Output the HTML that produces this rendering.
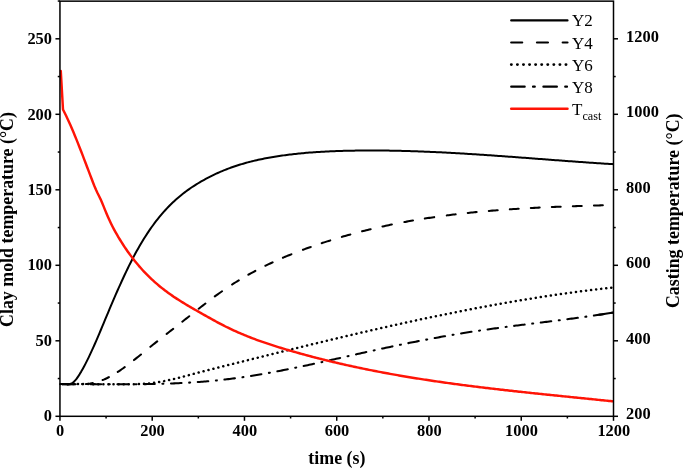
<!DOCTYPE html>
<html><head><meta charset="utf-8"><title>Clay mold and casting temperature</title>
<style>
html,body{margin:0;padding:0;background:#fff;}
svg{display:block;}
text{font-family:"Liberation Serif",serif;fill:#000;}
.tk{font-size:16.4px;font-weight:bold;}
.lg{font-size:17px;}
.ax{font-size:17.9px;font-weight:bold;}
.c{fill:none;stroke:#000;stroke-width:2.2;stroke-linejoin:round;stroke-linecap:round;}
.dot{stroke-width:2.5;}
.ldot{stroke-width:2.9;}
.d{stroke-width:2.05;}
.r{stroke:#ff1406;stroke-width:2.45;}
</style></head>
<body>
<svg width="685" height="468" viewBox="0 0 685 468">
<rect x="0" y="0" width="685" height="468" fill="#fff"/>
<defs><clipPath id="pc"><rect x="59.35" y="1.15" width="554.55" height="415.15000000000003"/></clipPath></defs>
<g id="curves" clip-path="url(#pc)">
<path d="M60.20,384.12 L61.70,384.05 L63.20,384.12 L64.70,384.25 L66.20,384.37 L67.70,384.39 L69.20,384.23 L70.70,383.83 L72.20,383.08 L73.70,381.94 L75.20,380.41 L76.70,378.55 L78.20,376.43 L79.70,374.10 L81.20,371.61 L82.70,368.99 L84.20,366.25 L85.70,363.39 L87.20,360.42 L88.70,357.35 L90.20,354.19 L91.70,350.95 L93.20,347.63 L94.70,344.25 L96.20,340.82 L97.70,337.33 L99.20,333.80 L100.70,330.25 L102.20,326.67 L103.70,323.07 L105.20,319.47 L106.70,315.87 L108.20,312.28 L109.70,308.71 L111.20,305.17 L112.70,301.65 L114.20,298.16 L115.70,294.70 L117.20,291.27 L118.70,287.89 L120.20,284.54 L121.70,281.23 L123.20,277.97 L124.70,274.76 L126.20,271.59 L127.70,268.48 L129.20,265.43 L130.70,262.43 L132.20,259.50 L133.70,256.63 L135.20,253.82 L136.70,251.08 L138.20,248.40 L139.70,245.78 L141.20,243.23 L142.70,240.74 L144.20,238.30 L145.70,235.93 L147.20,233.62 L148.70,231.37 L150.20,229.18 L151.70,227.04 L153.20,224.97 L154.70,222.94 L156.20,220.98 L157.70,219.06 L159.20,217.20 L160.70,215.39 L162.20,213.62 L163.70,211.91 L165.20,210.25 L166.70,208.63 L168.20,207.05 L169.70,205.52 L171.20,204.03 L172.70,202.59 L174.20,201.18 L175.70,199.81 L177.20,198.49 L178.70,197.19 L180.20,195.94 L181.70,194.72 L183.20,193.53 L184.70,192.37 L186.20,191.25 L187.70,190.15 L189.20,189.09 L190.70,188.05 L192.20,187.04 L193.70,186.05 L195.20,185.09 L196.70,184.15 L198.20,183.23 L199.70,182.34 L201.20,181.46 L202.70,180.60 L204.20,179.76 L205.70,178.94 L207.20,178.14 L208.70,177.35 L210.20,176.59 L211.70,175.84 L213.20,175.10 L214.70,174.39 L216.20,173.69 L217.70,173.01 L219.20,172.34 L220.70,171.69 L222.20,171.06 L223.70,170.44 L225.20,169.83 L226.70,169.24 L228.20,168.67 L229.70,168.11 L231.20,167.56 L232.70,167.03 L234.20,166.51 L235.70,166.00 L237.20,165.51 L238.70,165.03 L240.20,164.57 L241.70,164.11 L243.20,163.67 L244.70,163.24 L246.20,162.82 L247.70,162.41 L249.20,162.02 L250.70,161.63 L252.20,161.26 L253.70,160.89 L255.20,160.54 L256.70,160.19 L258.20,159.85 L259.70,159.53 L261.20,159.21 L262.70,158.90 L264.20,158.60 L265.70,158.31 L267.20,158.03 L268.70,157.75 L270.20,157.48 L271.70,157.22 L273.20,156.97 L274.70,156.72 L276.20,156.48 L277.70,156.24 L279.20,156.02 L280.70,155.79 L282.20,155.58 L283.70,155.37 L285.20,155.16 L286.70,154.96 L288.20,154.77 L289.70,154.58 L291.20,154.40 L292.70,154.23 L294.20,154.06 L295.70,153.89 L297.20,153.73 L298.70,153.57 L300.20,153.42 L301.70,153.28 L303.20,153.14 L304.70,153.00 L306.20,152.87 L307.70,152.75 L309.20,152.62 L310.70,152.51 L312.20,152.39 L313.70,152.29 L315.20,152.18 L316.70,152.08 L318.20,151.98 L319.70,151.89 L321.20,151.80 L322.70,151.72 L324.20,151.64 L325.70,151.56 L327.20,151.48 L328.70,151.41 L330.20,151.35 L331.70,151.28 L333.20,151.22 L334.70,151.16 L336.20,151.11 L337.70,151.05 L339.20,151.00 L340.70,150.96 L342.20,150.91 L343.70,150.87 L345.20,150.83 L346.70,150.79 L348.20,150.76 L349.70,150.72 L351.20,150.69 L352.70,150.67 L354.20,150.64 L355.70,150.62 L357.20,150.60 L358.70,150.58 L360.20,150.56 L361.70,150.54 L363.20,150.53 L364.70,150.52 L366.20,150.51 L367.70,150.51 L369.20,150.50 L370.70,150.50 L372.20,150.50 L373.70,150.50 L375.20,150.50 L376.70,150.51 L378.20,150.52 L379.70,150.53 L381.20,150.54 L382.70,150.55 L384.20,150.57 L385.70,150.58 L387.20,150.60 L388.70,150.62 L390.20,150.65 L391.70,150.67 L393.20,150.70 L394.70,150.72 L396.20,150.75 L397.70,150.79 L399.20,150.82 L400.70,150.85 L402.20,150.89 L403.70,150.93 L405.20,150.97 L406.70,151.01 L408.20,151.05 L409.70,151.10 L411.20,151.14 L412.70,151.19 L414.20,151.24 L415.70,151.29 L417.20,151.34 L418.70,151.40 L420.20,151.45 L421.70,151.51 L423.20,151.57 L424.70,151.63 L426.20,151.69 L427.70,151.75 L429.20,151.81 L430.70,151.88 L432.20,151.94 L433.70,152.01 L435.20,152.08 L436.70,152.15 L438.20,152.22 L439.70,152.29 L441.20,152.37 L442.70,152.44 L444.20,152.52 L445.70,152.60 L447.20,152.67 L448.70,152.75 L450.20,152.83 L451.70,152.91 L453.20,153.00 L454.70,153.08 L456.20,153.17 L457.70,153.25 L459.20,153.34 L460.70,153.43 L462.20,153.51 L463.70,153.60 L465.20,153.69 L466.70,153.79 L468.20,153.88 L469.70,153.97 L471.20,154.07 L472.70,154.16 L474.20,154.26 L475.70,154.35 L477.20,154.45 L478.70,154.55 L480.20,154.65 L481.70,154.75 L483.20,154.85 L484.70,154.95 L486.20,155.05 L487.70,155.15 L489.20,155.25 L490.70,155.36 L492.20,155.46 L493.70,155.56 L495.20,155.67 L496.70,155.78 L498.20,155.88 L499.70,155.99 L501.20,156.10 L502.70,156.20 L504.20,156.31 L505.70,156.42 L507.20,156.53 L508.70,156.64 L510.20,156.75 L511.70,156.86 L513.20,156.97 L514.70,157.08 L516.20,157.19 L517.70,157.30 L519.20,157.41 L520.70,157.52 L522.20,157.64 L523.70,157.75 L525.20,157.86 L526.70,157.97 L528.20,158.09 L529.70,158.20 L531.20,158.31 L532.70,158.43 L534.20,158.54 L535.70,158.65 L537.20,158.77 L538.70,158.88 L540.20,158.99 L541.70,159.11 L543.20,159.22 L544.70,159.33 L546.20,159.45 L547.70,159.56 L549.20,159.67 L550.70,159.79 L552.20,159.90 L553.70,160.01 L555.20,160.13 L556.70,160.24 L558.20,160.35 L559.70,160.46 L561.20,160.57 L562.70,160.69 L564.20,160.80 L565.70,160.91 L567.20,161.02 L568.70,161.13 L570.20,161.24 L571.70,161.35 L573.20,161.46 L574.70,161.57 L576.20,161.68 L577.70,161.79 L579.20,161.89 L580.70,162.00 L582.20,162.11 L583.70,162.21 L585.20,162.32 L586.70,162.42 L588.20,162.53 L589.70,162.63 L591.20,162.74 L592.70,162.84 L594.20,162.94 L595.70,163.04 L597.20,163.14 L598.70,163.25 L600.20,163.34 L601.70,163.44 L603.20,163.54 L604.70,163.64 L606.20,163.74 L607.70,163.83 L609.20,163.93 L610.70,164.02 L612.20,164.11 L613.50,164.20" class="c" style="stroke-width:2.0"/>
<path d="M60.20,384.18 L60.21,384.18 M68.83,384.11 L69.20,384.11 L70.70,384.15 L72.20,384.20 L73.70,384.24 L75.20,384.28 L75.71,384.29 M86.01,384.05 L87.20,383.94 L88.70,383.76 L90.20,383.55 L91.70,383.30 L92.82,383.09 M102.65,380.06 L103.70,379.63 L105.20,378.96 L106.70,378.26 L108.20,377.51 L108.89,377.15 M117.76,371.93 L118.70,371.31 L120.20,370.31 L121.70,369.28 L123.20,368.22 L124.69,367.15 M134.01,360.06 L135.20,359.11 L136.70,357.91 L138.20,356.71 L139.70,355.50 L140.95,354.48 M150.40,346.81 L151.70,345.76 L153.20,344.56 L154.70,343.36 L156.20,342.17 L157.20,341.38 M166.61,333.98 L166.70,333.91 L168.20,332.74 L169.70,331.56 L171.20,330.39 L172.70,329.22 L173.16,328.86 M182.31,321.69 L183.20,320.99 L184.70,319.80 L186.20,318.62 L187.70,317.43 L189.20,316.24 L189.22,316.22 M198.71,308.74 L199.70,307.96 L201.20,306.79 L202.70,305.63 L204.20,304.47 L205.41,303.53 M214.82,296.45 L216.20,295.44 L217.70,294.35 L219.20,293.28 L220.70,292.21 L222.03,291.28 M232.11,284.52 L232.70,284.14 L234.20,283.19 L235.70,282.25 L237.20,281.31 L238.70,280.40 L238.75,280.36 M248.39,274.72 L249.20,274.27 L250.70,273.44 L252.20,272.61 L253.70,271.80 L255.20,271.00 L255.37,270.91 M265.42,265.78 L265.70,265.64 L267.20,264.91 L268.70,264.19 L270.20,263.48 L271.70,262.78 L272.62,262.35 M282.94,257.76 L283.70,257.43 L285.20,256.80 L286.70,256.17 L288.20,255.55 L289.70,254.94 L291.20,254.33 L291.40,254.25 M302.96,249.77 L303.20,249.68 L304.70,249.13 L306.20,248.58 L307.70,248.03 L309.20,247.49 L310.70,246.96 L310.75,246.94 M321.72,243.17 L322.70,242.84 L324.20,242.35 L325.70,241.86 L327.20,241.38 L328.70,240.90 L330.20,240.42 L330.22,240.41 M341.88,236.87 L342.20,236.78 L343.70,236.34 L345.20,235.91 L346.70,235.48 L348.20,235.06 L349.70,234.64 L350.39,234.45 M362.09,231.34 L363.20,231.06 L364.70,230.68 L366.20,230.31 L367.70,229.94 L369.20,229.57 L370.69,229.21 M382.50,226.50 L382.70,226.45 L384.20,226.13 L385.70,225.80 L387.20,225.48 L388.70,225.16 L390.20,224.85 L391.70,224.54 L391.87,224.51 M404.41,222.05 L405.20,221.90 L406.70,221.63 L408.20,221.36 L409.70,221.09 L411.20,220.82 L412.70,220.56 L412.99,220.51 M424.81,218.55 L426.20,218.34 L427.70,218.10 L429.20,217.87 L430.70,217.65 L432.20,217.43 L433.70,217.21 L434.19,217.14 M446.77,215.41 L447.20,215.35 L448.70,215.16 L450.20,214.97 L451.70,214.79 L453.20,214.60 L454.70,214.42 L455.64,214.31 M467.77,212.94 L468.20,212.90 L469.70,212.74 L471.20,212.58 L472.70,212.43 L474.20,212.28 L475.70,212.13 L476.67,212.04 M488.82,210.93 L489.20,210.90 L490.70,210.77 L492.20,210.64 L493.70,210.52 L495.20,210.40 L496.70,210.28 L497.69,210.20 M509.82,209.32 L510.20,209.29 L511.70,209.19 L513.20,209.09 L514.70,208.99 L516.20,208.90 L517.70,208.80 L518.69,208.74 M530.82,208.04 L531.20,208.02 L532.70,207.94 L534.20,207.86 L535.70,207.78 L537.20,207.71 L538.70,207.63 L539.69,207.58 M551.82,207.03 L552.20,207.01 L553.70,206.95 L555.20,206.89 L556.70,206.83 L558.20,206.77 L559.70,206.71 L560.69,206.67 M572.82,206.22 L573.20,206.21 L574.70,206.16 L576.20,206.11 L577.70,206.06 L579.20,206.01 L580.70,205.96 L581.75,205.93 M593.92,205.55 L594.20,205.54 L595.70,205.50 L597.20,205.46 L598.70,205.41 L600.20,205.37 L601.70,205.33 L602.85,205.30" class="c d"/>
<path d="M60.20,384.21 L61.70,384.19 L63.20,384.18 L64.70,384.17 L66.20,384.15 L67.70,384.15 L69.20,384.14 L70.70,384.13 L72.20,384.12 L73.70,384.12 L75.20,384.12 L76.70,384.11 L78.20,384.11 L79.70,384.11 L81.20,384.11 L82.70,384.11 L84.20,384.11 L85.70,384.11 L87.20,384.12 L88.70,384.12 L90.20,384.12 L91.70,384.13 L93.20,384.13 L94.70,384.14 L96.20,384.14 L97.70,384.15 L99.20,384.15 L100.70,384.16 L102.20,384.16 L103.70,384.17 L105.20,384.17 L106.70,384.18 L108.20,384.19 L109.70,384.19 L111.20,384.20 L112.70,384.20 L114.20,384.20 L115.70,384.21 L117.20,384.21 L118.70,384.21 L120.20,384.22 L121.70,384.22 L123.20,384.22 L124.70,384.22 L126.20,384.22 L127.70,384.22 L129.20,384.22 L130.70,384.21 L132.20,384.20 L133.70,384.19 L135.20,384.17 L136.70,384.15 L138.20,384.11 L139.70,384.07 L141.20,384.01 L142.70,383.94 L144.20,383.86 L145.70,383.75 L147.20,383.64 L148.70,383.50 L150.20,383.34 L151.70,383.17 L153.20,382.98 L154.70,382.77 L156.20,382.55 L157.70,382.31 L159.20,382.06 L160.70,381.79 L162.20,381.51 L163.70,381.22 L165.20,380.91 L166.70,380.60 L168.20,380.27 L169.70,379.94 L171.20,379.59 L172.70,379.24 L174.20,378.88 L175.70,378.51 L177.20,378.14 L178.70,377.76 L180.20,377.38 L181.70,376.99 L183.20,376.60 L184.70,376.21 L186.20,375.82 L187.70,375.42 L189.20,375.02 L190.70,374.63 L192.20,374.23 L193.70,373.84 L195.20,373.44 L196.70,373.05 L198.20,372.66 L199.70,372.27 L201.20,371.89 L202.70,371.50 L204.20,371.11 L205.70,370.73 L207.20,370.35 L208.70,369.97 L210.20,369.58 L211.70,369.20 L213.20,368.83 L214.70,368.45 L216.20,368.07 L217.70,367.69 L219.20,367.31 L220.70,366.94 L222.20,366.56 L223.70,366.18 L225.20,365.81 L226.70,365.43 L228.20,365.05 L229.70,364.68 L231.20,364.30 L232.70,363.93 L234.20,363.55 L235.70,363.17 L237.20,362.80 L238.70,362.42 L240.20,362.05 L241.70,361.67 L243.20,361.30 L244.70,360.92 L246.20,360.55 L247.70,360.17 L249.20,359.80 L250.70,359.42 L252.20,359.05 L253.70,358.67 L255.20,358.30 L256.70,357.92 L258.20,357.55 L259.70,357.18 L261.20,356.80 L262.70,356.43 L264.20,356.06 L265.70,355.68 L267.20,355.31 L268.70,354.94 L270.20,354.57 L271.70,354.19 L273.20,353.82 L274.70,353.45 L276.20,353.08 L277.70,352.71 L279.20,352.34 L280.70,351.97 L282.20,351.60 L283.70,351.23 L285.20,350.86 L286.70,350.49 L288.20,350.12 L289.70,349.75 L291.20,349.38 L292.70,349.01 L294.20,348.64 L295.70,348.28 L297.20,347.91 L298.70,347.54 L300.20,347.18 L301.70,346.81 L303.20,346.44 L304.70,346.08 L306.20,345.71 L307.70,345.35 L309.20,344.98 L310.70,344.62 L312.20,344.25 L313.70,343.89 L315.20,343.53 L316.70,343.17 L318.20,342.80 L319.70,342.44 L321.20,342.08 L322.70,341.72 L324.20,341.36 L325.70,341.00 L327.20,340.64 L328.70,340.28 L330.20,339.92 L331.70,339.57 L333.20,339.21 L334.70,338.85 L336.20,338.49 L337.70,338.14 L339.20,337.78 L340.70,337.43 L342.20,337.07 L343.70,336.72 L345.20,336.37 L346.70,336.01 L348.20,335.66 L349.70,335.31 L351.20,334.96 L352.70,334.61 L354.20,334.26 L355.70,333.91 L357.20,333.56 L358.70,333.21 L360.20,332.86 L361.70,332.51 L363.20,332.17 L364.70,331.82 L366.20,331.47 L367.70,331.13 L369.20,330.78 L370.70,330.44 L372.20,330.10 L373.70,329.76 L375.20,329.41 L376.70,329.07 L378.20,328.73 L379.70,328.39 L381.20,328.05 L382.70,327.72 L384.20,327.38 L385.70,327.04 L387.20,326.70 L388.70,326.37 L390.20,326.03 L391.70,325.70 L393.20,325.37 L394.70,325.03 L396.20,324.70 L397.70,324.37 L399.20,324.04 L400.70,323.71 L402.20,323.38 L403.70,323.05 L405.20,322.72 L406.70,322.40 L408.20,322.07 L409.70,321.75 L411.20,321.42 L412.70,321.10 L414.20,320.78 L415.70,320.45 L417.20,320.13 L418.70,319.81 L420.20,319.49 L421.70,319.17 L423.20,318.86 L424.70,318.54 L426.20,318.22 L427.70,317.91 L429.20,317.59 L430.70,317.28 L432.20,316.97 L433.70,316.66 L435.20,316.34 L436.70,316.03 L438.20,315.73 L439.70,315.42 L441.20,315.11 L442.70,314.80 L444.20,314.50 L445.70,314.19 L447.20,313.89 L448.70,313.59 L450.20,313.29 L451.70,312.99 L453.20,312.69 L454.70,312.39 L456.20,312.09 L457.70,311.79 L459.20,311.50 L460.70,311.20 L462.20,310.91 L463.70,310.62 L465.20,310.32 L466.70,310.03 L468.20,309.74 L469.70,309.45 L471.20,309.17 L472.70,308.88 L474.20,308.60 L475.70,308.31 L477.20,308.03 L478.70,307.74 L480.20,307.46 L481.70,307.18 L483.20,306.90 L484.70,306.63 L486.20,306.35 L487.70,306.07 L489.20,305.80 L490.70,305.53 L492.20,305.25 L493.70,304.98 L495.20,304.71 L496.70,304.44 L498.20,304.17 L499.70,303.91 L501.20,303.64 L502.70,303.38 L504.20,303.11 L505.70,302.85 L507.20,302.59 L508.70,302.33 L510.20,302.07 L511.70,301.82 L513.20,301.56 L514.70,301.30 L516.20,301.05 L517.70,300.80 L519.20,300.55 L520.70,300.30 L522.20,300.05 L523.70,299.80 L525.20,299.56 L526.70,299.31 L528.20,299.07 L529.70,298.82 L531.20,298.58 L532.70,298.34 L534.20,298.10 L535.70,297.87 L537.20,297.63 L538.70,297.40 L540.20,297.16 L541.70,296.93 L543.20,296.70 L544.70,296.47 L546.20,296.24 L547.70,296.02 L549.20,295.79 L550.70,295.57 L552.20,295.35 L553.70,295.12 L555.20,294.90 L556.70,294.69 L558.20,294.47 L559.70,294.25 L561.20,294.04 L562.70,293.83 L564.20,293.62 L565.70,293.41 L567.20,293.20 L568.70,292.99 L570.20,292.78 L571.70,292.58 L573.20,292.38 L574.70,292.18 L576.20,291.98 L577.70,291.78 L579.20,291.58 L580.70,291.39 L582.20,291.19 L583.70,291.00 L585.20,290.81 L586.70,290.62 L588.20,290.43 L589.70,290.24 L591.20,290.06 L592.70,289.88 L594.20,289.69 L595.70,289.51 L597.20,289.34 L598.70,289.16 L600.20,288.98 L601.70,288.81 L603.20,288.64 L604.70,288.47 L606.20,288.30 L607.70,288.13 L609.20,287.96 L610.70,287.80 L612.20,287.64 L613.50,287.50" class="c dot" stroke-dasharray="0.1 4.98" stroke-dashoffset="2.59"/>
<path d="M60.20,384.19 L61.70,384.17 L63.20,384.16 L64.70,384.14 L66.20,384.13 L67.70,384.12 L69.20,384.11 L70.70,384.11 L72.20,384.10 L73.70,384.10 L75.20,384.10 L76.70,384.09 L78.20,384.09 L79.70,384.09 L81.20,384.10 L82.70,384.10 L84.20,384.10 L85.70,384.10 L87.20,384.11 L88.70,384.11 L90.20,384.12 L91.70,384.13 L93.20,384.13 L94.70,384.14 L96.20,384.15 L97.70,384.15 L99.20,384.16 L100.70,384.17 L102.20,384.18 L103.70,384.18 L105.20,384.19 L106.70,384.20 L108.20,384.21 L109.70,384.21 L111.20,384.22 L112.70,384.22 L114.20,384.23 L115.70,384.23 L117.20,384.24 L118.70,384.24 L120.20,384.25 L121.70,384.25 L123.20,384.25 L124.70,384.25 L126.20,384.25 L127.70,384.25 L129.20,384.24 L130.70,384.24 L132.20,384.23 L133.70,384.22 L135.20,384.22 L136.70,384.21 L138.20,384.19 L139.70,384.18 L141.20,384.17 L142.70,384.15 L144.20,384.13 L145.70,384.11 L147.20,384.09 L148.70,384.07 L150.20,384.04 L151.70,384.02 L153.20,383.99 L154.70,383.96 L156.20,383.93 L157.70,383.89 L159.20,383.85 L160.70,383.82 L162.20,383.77 L163.70,383.73 L165.20,383.68 L166.70,383.64 L168.20,383.59 L169.70,383.53 L171.20,383.48 L172.70,383.42 L174.20,383.36 L175.70,383.30 L177.20,383.23 L178.70,383.16 L180.20,383.09 L181.70,383.02 L183.20,382.94 L184.70,382.86 L186.20,382.78 L187.70,382.70 L189.20,382.61 L190.70,382.52 L192.20,382.42 L193.70,382.33 L195.20,382.23 L196.70,382.12 L198.20,382.02 L199.70,381.91 L201.20,381.79 L202.70,381.68 L204.20,381.56 L205.70,381.43 L207.20,381.31 L208.70,381.18 L210.20,381.04 L211.70,380.90 L213.20,380.76 L214.70,380.62 L216.20,380.47 L217.70,380.32 L219.20,380.16 L220.70,380.00 L222.20,379.84 L223.70,379.67 L225.20,379.49 L226.70,379.32 L228.20,379.14 L229.70,378.95 L231.20,378.77 L232.70,378.57 L234.20,378.38 L235.70,378.18 L237.20,377.97 L238.70,377.77 L240.20,377.56 L241.70,377.34 L243.20,377.12 L244.70,376.90 L246.20,376.68 L247.70,376.45 L249.20,376.22 L250.70,375.98 L252.20,375.74 L253.70,375.50 L255.20,375.26 L256.70,375.01 L258.20,374.76 L259.70,374.51 L261.20,374.25 L262.70,373.99 L264.20,373.73 L265.70,373.46 L267.20,373.19 L268.70,372.92 L270.20,372.65 L271.70,372.38 L273.20,372.10 L274.70,371.82 L276.20,371.53 L277.70,371.25 L279.20,370.96 L280.70,370.67 L282.20,370.38 L283.70,370.09 L285.20,369.79 L286.70,369.49 L288.20,369.19 L289.70,368.89 L291.20,368.58 L292.70,368.28 L294.20,367.97 L295.70,367.66 L297.20,367.35 L298.70,367.04 L300.20,366.72 L301.70,366.41 L303.20,366.09 L304.70,365.77 L306.20,365.45 L307.70,365.13 L309.20,364.81 L310.70,364.48 L312.20,364.16 L313.70,363.83 L315.20,363.50 L316.70,363.17 L318.20,362.84 L319.70,362.51 L321.20,362.18 L322.70,361.85 L324.20,361.52 L325.70,361.18 L327.20,360.85 L328.70,360.51 L330.20,360.18 L331.70,359.84 L333.20,359.51 L334.70,359.17 L336.20,358.83 L337.70,358.50 L339.20,358.16 L340.70,357.82 L342.20,357.48 L343.70,357.14 L345.20,356.81 L346.70,356.47 L348.20,356.13 L349.70,355.79 L351.20,355.45 L352.70,355.12 L354.20,354.78 L355.70,354.44 L357.20,354.11 L358.70,353.77 L360.20,353.43 L361.70,353.10 L363.20,352.77 L364.70,352.43 L366.20,352.10 L367.70,351.77 L369.20,351.43 L370.70,351.10 L372.20,350.77 L373.70,350.44 L375.20,350.12 L376.70,349.79 L378.20,349.46 L379.70,349.14 L381.20,348.81 L382.70,348.49 L384.20,348.17 L385.70,347.85 L387.20,347.52 L388.70,347.21 L390.20,346.89 L391.70,346.57 L393.20,346.26 L394.70,345.94 L396.20,345.63 L397.70,345.32 L399.20,345.00 L400.70,344.69 L402.20,344.39 L403.70,344.08 L405.20,343.77 L406.70,343.47 L408.20,343.16 L409.70,342.86 L411.20,342.56 L412.70,342.26 L414.20,341.96 L415.70,341.67 L417.20,341.37 L418.70,341.08 L420.20,340.79 L421.70,340.50 L423.20,340.21 L424.70,339.92 L426.20,339.63 L427.70,339.35 L429.20,339.06 L430.70,338.78 L432.20,338.50 L433.70,338.22 L435.20,337.95 L436.70,337.67 L438.20,337.40 L439.70,337.13 L441.20,336.86 L442.70,336.59 L444.20,336.32 L445.70,336.06 L447.20,335.79 L448.70,335.53 L450.20,335.27 L451.70,335.01 L453.20,334.76 L454.70,334.50 L456.20,334.25 L457.70,334.00 L459.20,333.75 L460.70,333.51 L462.20,333.26 L463.70,333.02 L465.20,332.78 L466.70,332.54 L468.20,332.30 L469.70,332.07 L471.20,331.84 L472.70,331.61 L474.20,331.38 L475.70,331.15 L477.20,330.93 L478.70,330.70 L480.20,330.48 L481.70,330.26 L483.20,330.04 L484.70,329.83 L486.20,329.61 L487.70,329.40 L489.20,329.19 L490.70,328.98 L492.20,328.77 L493.70,328.57 L495.20,328.36 L496.70,328.16 L498.20,327.96 L499.70,327.75 L501.20,327.55 L502.70,327.35 L504.20,327.16 L505.70,326.96 L507.20,326.76 L508.70,326.57 L510.20,326.37 L511.70,326.18 L513.20,325.99 L514.70,325.80 L516.20,325.60 L517.70,325.41 L519.20,325.22 L520.70,325.04 L522.20,324.85 L523.70,324.66 L525.20,324.47 L526.70,324.28 L528.20,324.10 L529.70,323.91 L531.20,323.72 L532.70,323.54 L534.20,323.35 L535.70,323.16 L537.20,322.98 L538.70,322.79 L540.20,322.61 L541.70,322.42 L543.20,322.23 L544.70,322.05 L546.20,321.86 L547.70,321.68 L549.20,321.49 L550.70,321.30 L552.20,321.11 L553.70,320.92 L555.20,320.74 L556.70,320.55 L558.20,320.36 L559.70,320.17 L561.20,319.97 L562.70,319.78 L564.20,319.59 L565.70,319.40 L567.20,319.20 L568.70,319.01 L570.20,318.81 L571.70,318.61 L573.20,318.42 L574.70,318.22 L576.20,318.02 L577.70,317.81 L579.20,317.61 L580.70,317.41 L582.20,317.20 L583.70,317.00 L585.20,316.79 L586.70,316.58 L588.20,316.37 L589.70,316.15 L591.20,315.94 L592.70,315.72 L594.20,315.51 L595.70,315.29 L597.20,315.07 L598.70,314.84 L600.20,314.62 L601.70,314.39 L603.20,314.16 L604.70,313.93 L606.20,313.70 L607.70,313.46 L609.20,313.23 L610.70,312.99 L612.20,312.75 L613.50,312.54" class="c d" stroke-dasharray="10.6 7.6 1 7.6" stroke-dashoffset="23.21"/>
<path d="M599,314.80 L613.5,312.54" class="c d"/>
<path d="M60.80,71.00 L63.00,109.50 L64.50,112.44 L66.00,115.50 L67.50,118.67 L69.00,121.94 L70.50,125.31 L72.00,128.78 L73.50,132.32 L75.00,135.95 L76.50,139.64 L78.00,143.39 L79.50,147.19 L81.00,151.04 L82.50,154.93 L84.00,158.85 L85.50,162.79 L87.00,166.74 L88.50,170.69 L90.00,174.63 L91.50,178.56 L93.00,182.45 L94.50,186.26 L96.00,189.82 L97.50,193.00 L99.00,195.99 L100.50,199.10 L102.00,202.51 L103.50,206.15 L105.00,209.87 L106.50,213.54 L108.00,217.04 L109.50,220.36 L111.00,223.51 L112.50,226.50 L114.00,229.35 L115.50,232.09 L117.00,234.72 L118.50,237.27 L120.00,239.75 L121.50,242.17 L123.00,244.52 L124.50,246.81 L126.00,249.03 L127.50,251.20 L129.00,253.31 L130.50,255.36 L132.00,257.36 L133.50,259.31 L135.00,261.20 L136.50,263.04 L138.00,264.84 L139.50,266.59 L141.00,268.29 L142.50,269.95 L144.00,271.57 L145.50,273.14 L147.00,274.68 L148.50,276.18 L150.00,277.64 L151.50,279.07 L153.00,280.46 L154.50,281.82 L156.00,283.14 L157.50,284.43 L159.00,285.70 L160.50,286.93 L162.00,288.14 L163.50,289.31 L165.00,290.46 L166.50,291.59 L168.00,292.69 L169.50,293.77 L171.00,294.83 L172.50,295.87 L174.00,296.89 L175.50,297.88 L177.00,298.87 L178.50,299.83 L180.00,300.78 L181.50,301.72 L183.00,302.64 L184.50,303.55 L186.00,304.45 L187.50,305.34 L189.00,306.23 L190.50,307.10 L192.00,307.97 L193.50,308.83 L195.00,309.69 L196.50,310.55 L198.00,311.40 L199.50,312.25 L201.00,313.10 L202.50,313.96 L204.00,314.81 L205.50,315.66 L207.00,316.51 L208.50,317.35 L210.00,318.19 L211.50,319.03 L213.00,319.86 L214.50,320.68 L216.00,321.50 L217.50,322.31 L219.00,323.11 L220.50,323.91 L222.00,324.69 L223.50,325.46 L225.00,326.23 L226.50,326.98 L228.00,327.71 L229.50,328.44 L231.00,329.16 L232.50,329.86 L234.00,330.55 L235.50,331.23 L237.00,331.91 L238.50,332.57 L240.00,333.22 L241.50,333.86 L243.00,334.49 L244.50,335.11 L246.00,335.73 L247.50,336.33 L249.00,336.93 L250.50,337.51 L252.00,338.09 L253.50,338.66 L255.00,339.22 L256.50,339.78 L258.00,340.32 L259.50,340.86 L261.00,341.40 L262.50,341.92 L264.00,342.44 L265.50,342.95 L267.00,343.46 L268.50,343.96 L270.00,344.45 L271.50,344.94 L273.00,345.43 L274.50,345.91 L276.00,346.38 L277.50,346.85 L279.00,347.31 L280.50,347.77 L282.00,348.23 L283.50,348.68 L285.00,349.13 L286.50,349.58 L288.00,350.02 L289.50,350.46 L291.00,350.90 L292.50,351.33 L294.00,351.76 L295.50,352.19 L297.00,352.61 L298.50,353.03 L300.00,353.45 L301.50,353.87 L303.00,354.28 L304.50,354.69 L306.00,355.10 L307.50,355.50 L309.00,355.90 L310.50,356.30 L312.00,356.70 L313.50,357.09 L315.00,357.48 L316.50,357.87 L318.00,358.25 L319.50,358.63 L321.00,359.01 L322.50,359.39 L324.00,359.76 L325.50,360.13 L327.00,360.50 L328.50,360.87 L330.00,361.23 L331.50,361.59 L333.00,361.95 L334.50,362.31 L336.00,362.66 L337.50,363.01 L339.00,363.36 L340.50,363.71 L342.00,364.05 L343.50,364.39 L345.00,364.73 L346.50,365.07 L348.00,365.40 L349.50,365.73 L351.00,366.06 L352.50,366.39 L354.00,366.71 L355.50,367.03 L357.00,367.35 L358.50,367.67 L360.00,367.98 L361.50,368.30 L363.00,368.61 L364.50,368.91 L366.00,369.22 L367.50,369.52 L369.00,369.83 L370.50,370.13 L372.00,370.42 L373.50,370.72 L375.00,371.01 L376.50,371.30 L378.00,371.59 L379.50,371.88 L381.00,372.16 L382.50,372.44 L384.00,372.72 L385.50,373.00 L387.00,373.28 L388.50,373.55 L390.00,373.83 L391.50,374.10 L393.00,374.37 L394.50,374.63 L396.00,374.90 L397.50,375.16 L399.00,375.42 L400.50,375.68 L402.00,375.94 L403.50,376.19 L405.00,376.45 L406.50,376.70 L408.00,376.95 L409.50,377.20 L411.00,377.45 L412.50,377.69 L414.00,377.93 L415.50,378.18 L417.00,378.42 L418.50,378.65 L420.00,378.89 L421.50,379.13 L423.00,379.36 L424.50,379.59 L426.00,379.82 L427.50,380.05 L429.00,380.28 L430.50,380.50 L432.00,380.73 L433.50,380.95 L435.00,381.17 L436.50,381.39 L438.00,381.61 L439.50,381.82 L441.00,382.04 L442.50,382.25 L444.00,382.47 L445.50,382.68 L447.00,382.89 L448.50,383.10 L450.00,383.30 L451.50,383.51 L453.00,383.71 L454.50,383.92 L456.00,384.12 L457.50,384.32 L459.00,384.52 L460.50,384.72 L462.00,384.91 L463.50,385.11 L465.00,385.30 L466.50,385.50 L468.00,385.69 L469.50,385.88 L471.00,386.07 L472.50,386.26 L474.00,386.45 L475.50,386.63 L477.00,386.82 L478.50,387.00 L480.00,387.19 L481.50,387.37 L483.00,387.55 L484.50,387.73 L486.00,387.91 L487.50,388.09 L489.00,388.27 L490.50,388.45 L492.00,388.62 L493.50,388.80 L495.00,388.97 L496.50,389.15 L498.00,389.32 L499.50,389.49 L501.00,389.66 L502.50,389.83 L504.00,390.00 L505.50,390.17 L507.00,390.34 L508.50,390.51 L510.00,390.67 L511.50,390.84 L513.00,391.01 L514.50,391.17 L516.00,391.33 L517.50,391.50 L519.00,391.66 L520.50,391.82 L522.00,391.98 L523.50,392.15 L525.00,392.31 L526.50,392.47 L528.00,392.63 L529.50,392.79 L531.00,392.94 L532.50,393.10 L534.00,393.26 L535.50,393.42 L537.00,393.57 L538.50,393.73 L540.00,393.89 L541.50,394.04 L543.00,394.20 L544.50,394.35 L546.00,394.51 L547.50,394.66 L549.00,394.82 L550.50,394.97 L552.00,395.12 L553.50,395.28 L555.00,395.43 L556.50,395.58 L558.00,395.74 L559.50,395.89 L561.00,396.04 L562.50,396.19 L564.00,396.35 L565.50,396.50 L567.00,396.65 L568.50,396.80 L570.00,396.95 L571.50,397.11 L573.00,397.26 L574.50,397.41 L576.00,397.56 L577.50,397.71 L579.00,397.86 L580.50,398.02 L582.00,398.17 L583.50,398.32 L585.00,398.47 L586.50,398.62 L588.00,398.78 L589.50,398.93 L591.00,399.08 L592.50,399.23 L594.00,399.39 L595.50,399.54 L597.00,399.69 L598.50,399.85 L600.00,400.00 L601.50,400.16 L603.00,400.31 L604.50,400.46 L606.00,400.62 L607.50,400.78 L609.00,400.93 L610.50,401.09 L612.00,401.24 L613.50,401.40" class="c r"/>
</g>
<g id="frame">
<rect x="59.95" y="1.15" width="553.55" height="415.15000000000003" fill="none" stroke="#000" stroke-width="1.5"/>
<line x1="55.45" y1="416.30" x2="59.95" y2="416.30" stroke="#000" stroke-width="1.5"/>
<line x1="55.45" y1="340.80" x2="59.95" y2="340.80" stroke="#000" stroke-width="1.5"/>
<line x1="55.45" y1="265.30" x2="59.95" y2="265.30" stroke="#000" stroke-width="1.5"/>
<line x1="55.45" y1="189.80" x2="59.95" y2="189.80" stroke="#000" stroke-width="1.5"/>
<line x1="55.45" y1="114.30" x2="59.95" y2="114.30" stroke="#000" stroke-width="1.5"/>
<line x1="55.45" y1="38.80" x2="59.95" y2="38.80" stroke="#000" stroke-width="1.5"/>
<line x1="57.75" y1="378.55" x2="59.95" y2="378.55" stroke="#000" stroke-width="1.5"/>
<line x1="57.75" y1="303.05" x2="59.95" y2="303.05" stroke="#000" stroke-width="1.5"/>
<line x1="57.75" y1="227.55" x2="59.95" y2="227.55" stroke="#000" stroke-width="1.5"/>
<line x1="57.75" y1="152.05" x2="59.95" y2="152.05" stroke="#000" stroke-width="1.5"/>
<line x1="57.75" y1="76.55" x2="59.95" y2="76.55" stroke="#000" stroke-width="1.5"/>
<line x1="57.75" y1="1.05" x2="59.95" y2="1.05" stroke="#000" stroke-width="1.5"/>
<line x1="613.50" y1="416.30" x2="618.00" y2="416.30" stroke="#000" stroke-width="1.5"/>
<line x1="613.50" y1="340.80" x2="618.00" y2="340.80" stroke="#000" stroke-width="1.5"/>
<line x1="613.50" y1="265.30" x2="618.00" y2="265.30" stroke="#000" stroke-width="1.5"/>
<line x1="613.50" y1="189.80" x2="618.00" y2="189.80" stroke="#000" stroke-width="1.5"/>
<line x1="613.50" y1="114.30" x2="618.00" y2="114.30" stroke="#000" stroke-width="1.5"/>
<line x1="613.50" y1="38.80" x2="618.00" y2="38.80" stroke="#000" stroke-width="1.5"/>
<line x1="613.50" y1="378.55" x2="615.70" y2="378.55" stroke="#000" stroke-width="1.5"/>
<line x1="613.50" y1="303.05" x2="615.70" y2="303.05" stroke="#000" stroke-width="1.5"/>
<line x1="613.50" y1="227.55" x2="615.70" y2="227.55" stroke="#000" stroke-width="1.5"/>
<line x1="613.50" y1="152.05" x2="615.70" y2="152.05" stroke="#000" stroke-width="1.5"/>
<line x1="613.50" y1="76.55" x2="615.70" y2="76.55" stroke="#000" stroke-width="1.5"/>
<line x1="59.95" y1="416.30" x2="59.95" y2="420.80" stroke="#000" stroke-width="1.5"/>
<line x1="152.21" y1="416.30" x2="152.21" y2="420.80" stroke="#000" stroke-width="1.5"/>
<line x1="244.47" y1="416.30" x2="244.47" y2="420.80" stroke="#000" stroke-width="1.5"/>
<line x1="336.72" y1="416.30" x2="336.72" y2="420.80" stroke="#000" stroke-width="1.5"/>
<line x1="428.98" y1="416.30" x2="428.98" y2="420.80" stroke="#000" stroke-width="1.5"/>
<line x1="521.24" y1="416.30" x2="521.24" y2="420.80" stroke="#000" stroke-width="1.5"/>
<line x1="613.50" y1="416.30" x2="613.50" y2="420.80" stroke="#000" stroke-width="1.5"/>
<line x1="106.08" y1="416.30" x2="106.08" y2="418.50" stroke="#000" stroke-width="1.5"/>
<line x1="198.34" y1="416.30" x2="198.34" y2="418.50" stroke="#000" stroke-width="1.5"/>
<line x1="290.60" y1="416.30" x2="290.60" y2="418.50" stroke="#000" stroke-width="1.5"/>
<line x1="382.85" y1="416.30" x2="382.85" y2="418.50" stroke="#000" stroke-width="1.5"/>
<line x1="475.11" y1="416.30" x2="475.11" y2="418.50" stroke="#000" stroke-width="1.5"/>
<line x1="567.37" y1="416.30" x2="567.37" y2="418.50" stroke="#000" stroke-width="1.5"/>
</g>
<g id="labels">
<text x="52.0" y="421.4" text-anchor="end" class="tk">0</text>
<text x="52.0" y="345.9" text-anchor="end" class="tk">50</text>
<text x="52.0" y="270.4" text-anchor="end" class="tk">100</text>
<text x="52.0" y="195.0" text-anchor="end" class="tk">150</text>
<text x="52.0" y="119.5" text-anchor="end" class="tk">200</text>
<text x="52.0" y="44.0" text-anchor="end" class="tk">250</text>
<text x="626.1" y="419.3" text-anchor="start" class="tk">200</text>
<text x="626.1" y="343.8" text-anchor="start" class="tk">400</text>
<text x="626.1" y="268.3" text-anchor="start" class="tk">600</text>
<text x="626.1" y="192.8" text-anchor="start" class="tk">800</text>
<text x="626.1" y="117.3" text-anchor="start" class="tk">1000</text>
<text x="626.1" y="41.8" text-anchor="start" class="tk">1200</text>
<text x="60.2" y="436.3" text-anchor="middle" class="tk">0</text>
<text x="152.5" y="436.3" text-anchor="middle" class="tk">200</text>
<text x="244.8" y="436.3" text-anchor="middle" class="tk">400</text>
<text x="337.0" y="436.3" text-anchor="middle" class="tk">600</text>
<text x="429.3" y="436.3" text-anchor="middle" class="tk">800</text>
<text x="521.5" y="436.3" text-anchor="middle" class="tk">1000</text>
<text x="613.8" y="436.3" text-anchor="middle" class="tk">1200</text>
<text x="336.9" y="464.0" text-anchor="middle" class="ax">time (s)</text>
<text transform="translate(13.2,219.5) rotate(-90)" text-anchor="middle" class="ax">Clay mold temperature (°C)</text>
<text transform="translate(678.5,210.8) rotate(-90)" text-anchor="middle" class="ax">Casting temperature (°C)</text>
</g>
<g id="legend">
<line x1="511.2" y1="20.4" x2="567.5" y2="20.4" class="c"/>
<line x1="511.2" y1="42.5" x2="567.5" y2="42.5" class="c" stroke-dasharray="11 14.75"/>
<line x1="511.3" y1="64.6" x2="567.5" y2="64.6" class="c ldot" stroke-dasharray="0.1 5.97"/>
<line x1="511.2" y1="86.7" x2="567.5" y2="86.7" class="c" stroke-dasharray="13.5 8.3 1.8 8.6"/>
<line x1="511.2" y1="108.8" x2="567.5" y2="108.8" class="c r"/>
<text x="572" y="26.4" class="lg">Y2</text>
<text x="572" y="48.5" class="lg">Y4</text>
<text x="572" y="70.6" class="lg">Y6</text>
<text x="572" y="92.7" class="lg">Y8</text>
<text x="572" y="114.8" class="lg">T<tspan dy="5" font-size="12.2">cast</tspan></text>
</g>
</svg>
</body></html>
